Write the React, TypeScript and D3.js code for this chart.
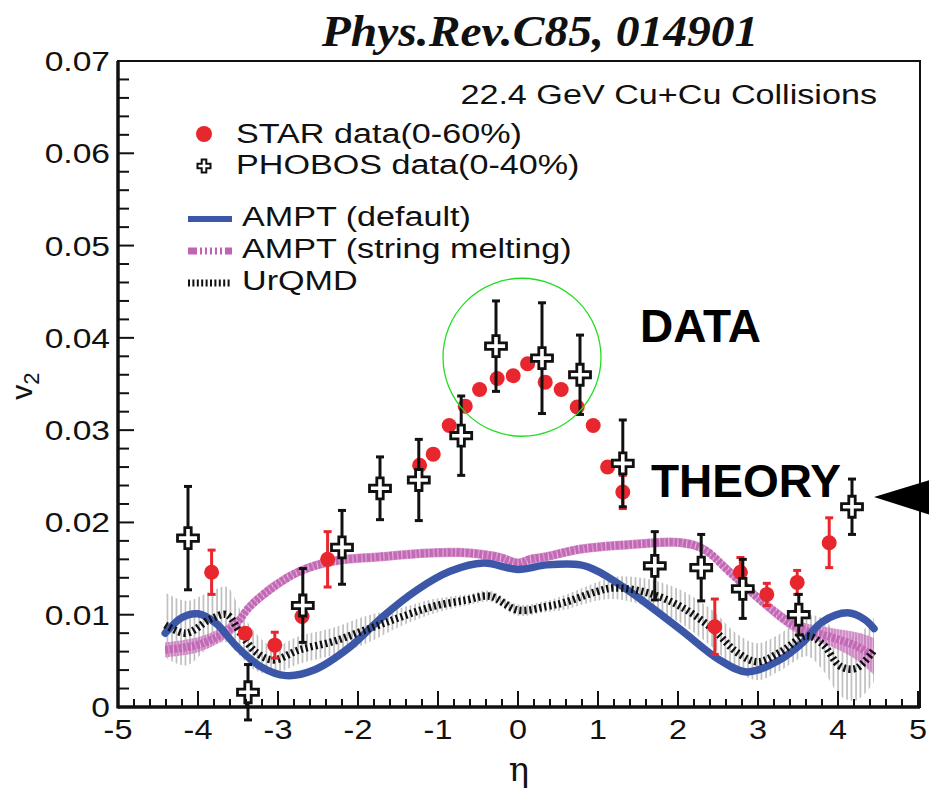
import React from "react";
import * as d3 from "d3";

// STAR v2(eta), 0-60% centrality
const starEta = [-3.83, -3.41, -3.04, -2.7, -2.38, -1.23, -1.06, -0.86, -0.66, -0.48, -0.26, -0.06, 0.12, 0.34, 0.54, 0.74, 0.94, 1.12, 1.31, 2.46, 2.78, 3.11, 3.49, 3.89];
const starV2 = [0.0146, 0.008, 0.0067, 0.0098, 0.016, 0.0262, 0.0274, 0.0305, 0.0326, 0.0344, 0.0356, 0.0359, 0.0372, 0.0352, 0.0344, 0.0325, 0.0305, 0.026, 0.0233, 0.0087, 0.0146, 0.0122, 0.0135, 0.0178];
const starErr = [0.0024, 0, 0.0014, 0, 0.003, 0, 0, 0, 0, 0, 0, 0, 0, 0, 0, 0, 0, 0, 0.0018, 0.003, 0.0016, 0.0012, 0.0013, 0.0027];

// PHOBOS v2(eta), 0-40% centrality
const phobosEta = [-4.125, -3.375, -2.69, -2.2, -1.725, -1.24, -0.71, -0.275, 0.3, 0.775, 1.31, 1.71, 2.29, 2.81, 3.51, 4.175];
const phobosV2 = [0.0183, 0.0016, 0.011, 0.0173, 0.0237, 0.0246, 0.0294, 0.0391, 0.0378, 0.036, 0.0264, 0.0153, 0.0151, 0.0128, 0.01, 0.0217];
const phobosErr = [0.0056, 0.003, 0.004, 0.004, 0.0034, 0.0044, 0.0043, 0.0049, 0.006, 0.0043, 0.0047, 0.0037, 0.0036, 0.0032, 0.0022, 0.003];

// AMPT (default)
const amptEta = [-4.41, -4.2, -4.0, -3.78, -3.51, -3.22, -2.9, -2.55, -2.1, -1.69, -1.26, -0.85, -0.43, 0, 0.36, 0.78, 1.0, 1.4, 2.03, 2.52, 2.86, 3.27, 3.56, 3.8, 4.12, 4.33, 4.45];
const amptV2 = [0.008, 0.0097, 0.0101, 0.0091, 0.0065, 0.0044, 0.0034, 0.004, 0.0065, 0.0098, 0.0127, 0.0147, 0.0156, 0.0149, 0.0154, 0.0154, 0.0147, 0.0125, 0.0084, 0.0051, 0.0038, 0.0051, 0.007, 0.0092, 0.0102, 0.0095, 0.0085];

// AMPT (string melting) with its band
const smEta = [-4.41, -3.98, -3.56, -3.35, -3.06, -2.73, -2.31, -1.69, -1.06, -0.64, -0.22, 0, 0.15, 0.36, 0.78, 1.4, 2.03, 2.32, 2.65, 3.07, 3.48, 3.9, 4.23, 4.45];
const smV2 = [0.0062, 0.0068, 0.0087, 0.0109, 0.013, 0.0147, 0.0158, 0.0163, 0.0167, 0.0167, 0.0162, 0.0156, 0.016, 0.0163, 0.0171, 0.0176, 0.0178, 0.0171, 0.0146, 0.0113, 0.0087, 0.0076, 0.0066, 0.0055];
const smErr = [0.0008, 0.0008, 0.0007, 0.0006, 0.0006, 0.0005, 0.0005, 0.0005, 0.0005, 0.0005, 0.0005, 0.0005, 0.0005, 0.0005, 0.0005, 0.0005, 0.0005, 0.0005, 0.0006, 0.0006, 0.0007, 0.001, 0.0015, 0.002];

// UrQMD with its band
const urEta = [-4.41, -4.15, -3.85, -3.64, -3.47, -3.27, -3.06, -2.73, -2.31, -1.89, -1.48, -1.06, -0.64, -0.35, 0, 0.36, 0.57, 0.98, 1.19, 1.61, 2.03, 2.44, 2.74, 2.99, 3.27, 3.61, 3.81, 4.03, 4.23, 4.45];
const urV2 = [0.0089, 0.008, 0.0095, 0.01, 0.008, 0.0059, 0.0051, 0.0062, 0.0071, 0.0084, 0.0097, 0.0109, 0.0116, 0.012, 0.0105, 0.0109, 0.0113, 0.0125, 0.0129, 0.0124, 0.0109, 0.0084, 0.0059, 0.0049, 0.0059, 0.0077, 0.0068, 0.0044, 0.0042, 0.0062];
const urErr = [0.0035, 0.0035, 0.003, 0.003, 0.0025, 0.002, 0.0015, 0.0015, 0.0015, 0.0015, 0.001, 0.0008, 0.0006, 0.0006, 0.0006, 0.0006, 0.0008, 0.001, 0.0012, 0.0015, 0.0018, 0.002, 0.002, 0.002, 0.002, 0.0022, 0.0028, 0.0032, 0.0035, 0.0035];

const xTicks = [-5, -4, -3, -2, -1, 0, 1, 2, 3, 4, 5];
const yTicks = [0, 0.01, 0.02, 0.03, 0.04, 0.05, 0.06, 0.07];
const yTickLabels = ["0", "0.01", "0.02", "0.03", "0.04", "0.05", "0.06", "0.07"];

const legendItems = ["STAR data(0-60%)", "PHOBOS data(0-40%)", "AMPT (default)", "AMPT (string melting)", "UrQMD"];

const RED = "#e8262d";
const BLUE = "#3d57a8";
const PINK = "#c063b3";
const SANS = "'Liberation Sans', Arial, sans-serif";

const W = 929;
const H = 790;
const x = d3.scaleLinear().domain([-5, 5]).range([118, 918]);
const y = d3.scaleLinear().domain([0, 0.07]).range([707, 61]);

const crossPath = (a: number, t: number) =>
  `M${-t},${-a}H${t}V${-t}H${a}V${t}H${t}V${a}H${-t}V${t}H${-a}V${-t}H${-t}Z`;

function Wide({ x0, y0, size, anchor = "start", sx = 1.2, children, weight = "normal", family = SANS, style = "normal" }: any) {
  return (
    <text
      transform={`translate(${x0},${y0}) scale(${sx},1)`}
      fontSize={size}
      textAnchor={anchor}
      fontFamily={family}
      fontWeight={weight}
      fontStyle={style}
      fill="#111"
    >
      {children}
    </text>
  );
}

export default function App() {
  const curve = d3.curveCatmullRom.alpha(0.5);
  const line = d3
    .line<[number, number]>()
    .x((d) => x(d[0]))
    .y((d) => y(d[1]))
    .curve(curve);
  const band = d3
    .area<[number, number, number]>()
    .x((d) => x(d[0]))
    .y0((d) => y(d[1] - d[2]))
    .y1((d) => y(d[1] + d[2]))
    .curve(curve);

  const amptPts = amptEta.map((e, i) => [e, amptV2[i]] as [number, number]);
  const smPts = smEta.map((e, i) => [e, smV2[i]] as [number, number]);
  const smBand = smEta.map((e, i) => [e, smV2[i], smErr[i]] as [number, number, number]);
  const urPts = urEta.map((e, i) => [e, urV2[i]] as [number, number]);
  const urBand = urEta.map((e, i) => [e, urV2[i], urErr[i]] as [number, number, number]);

  const xMinor = d3.range(-5, 5.001, 0.2);
  const yMinor = d3.range(0, 0.0701, 0.002);

  return (
    <svg width={W} height={H} style={{ position: "absolute", left: 0, top: 0, background: "#fff" }}>
      <defs>
        <pattern id="greyHatch" width="4.5" height="6" patternUnits="userSpaceOnUse">
          <line x1="1" y1="0" x2="1" y2="6" stroke="#8a8a8a" strokeWidth="1.1" />
        </pattern>
        <pattern id="pinkHatch" width="3" height="6" patternUnits="userSpaceOnUse">
          <rect x="0" y="0" width="3" height="6" fill="#dc9ed3" />
          <line x1="1" y1="0" x2="1" y2="6" stroke={PINK} strokeWidth="1.4" />
        </pattern>
        <clipPath id="plotClip">
          <rect x={x(-5)} y={y(0.07)} width={x(5) - x(-5)} height={y(0) - y(0.07)} />
        </clipPath>
      </defs>

      {/* title */}
      <Wide x0={540} y0={46} size={44} anchor="middle" sx={1.08} weight="bold" style="italic" family="'Liberation Serif', 'Times New Roman', serif">
        Phys.Rev.C85, 014901
      </Wide>

      {/* theory curves */}
      <g clipPath="url(#plotClip)">
        <path d={band(urBand) || ""} fill="url(#greyHatch)" opacity={0.85} />
        <path d={band(smBand) || ""} fill="url(#pinkHatch)" opacity={0.8} />
        <path d={line(smPts) || ""} fill="none" stroke={PINK} strokeWidth={8} strokeDasharray="3,1.5" opacity={0.9} />
        <path d={line(amptPts) || ""} fill="none" stroke={BLUE} strokeWidth={7.5} strokeLinecap="round" />
        <path d={line(urPts) || ""} fill="none" stroke="#111" strokeWidth={7.5} strokeDasharray="2.2,2.8" />
      </g>

      {/* STAR */}
      <g>
        {starEta.map((e, i) =>
          starErr[i] > 0 ? (
            <g key={"se" + i} stroke={RED} strokeWidth={3}>
              <line x1={x(e)} x2={x(e)} y1={y(starV2[i] - starErr[i])} y2={y(starV2[i] + starErr[i])} />
              <line x1={x(e) - 4} x2={x(e) + 4} y1={y(starV2[i] - starErr[i])} y2={y(starV2[i] - starErr[i])} />
              <line x1={x(e) - 4} x2={x(e) + 4} y1={y(starV2[i] + starErr[i])} y2={y(starV2[i] + starErr[i])} />
            </g>
          ) : null
        )}
        {starEta.map((e, i) => (
          <circle key={"s" + i} cx={x(e)} cy={y(starV2[i])} r={7.5} fill={RED} />
        ))}
      </g>

      {/* PHOBOS */}
      <g>
        {phobosEta.map((e, i) => (
          <g key={"pe" + i} stroke="#111" strokeWidth={3}>
            <line x1={x(e)} x2={x(e)} y1={y(phobosV2[i] - phobosErr[i])} y2={y(phobosV2[i] + phobosErr[i])} />
            <line x1={x(e) - 4} x2={x(e) + 4} y1={y(phobosV2[i] - phobosErr[i])} y2={y(phobosV2[i] - phobosErr[i])} />
            <line x1={x(e) - 4} x2={x(e) + 4} y1={y(phobosV2[i] + phobosErr[i])} y2={y(phobosV2[i] + phobosErr[i])} />
          </g>
        ))}
        {phobosEta.map((e, i) => (
          <path
            key={"p" + i}
            d={crossPath(10.5, 3.2)}
            transform={`translate(${x(e)},${y(phobosV2[i])})`}
            fill="#fff"
            stroke="#111"
            strokeWidth={2.8}
          />
        ))}
      </g>

      {/* frame */}
      <rect x={x(-5)} y={y(0.07)} width={x(5) - x(-5) + 2} height={y(0) - y(0.07)} fill="none" stroke="#111" strokeWidth={2} />
      <line x1={x(-5)} x2={x(5) + 2} y1={y(0)} y2={y(0)} stroke="#111" strokeWidth={3.5} />
      <line x1={x(-5)} x2={x(-5)} y1={y(0) + 1.5} y2={y(0.07)} stroke="#111" strokeWidth={3.5} />

      {/* ticks */}
      <g stroke="#111" strokeWidth={2}>
        {xMinor.map((t, i) => {
          const major = Math.abs(t - Math.round(t)) < 1e-6;
          return <line key={"xt" + i} x1={x(t)} x2={x(t)} y1={y(0)} y2={y(0) - (major ? 16 : 8)} />;
        })}
        {yMinor.map((t, i) => {
          const major = Math.abs(t * 100 - Math.round(t * 100)) < 1e-6;
          return <line key={"yt" + i} x1={x(-5)} x2={x(-5) + (major ? 16 : 11)} y1={y(t)} y2={y(t)} />;
        })}
      </g>

      {/* tick labels */}
      {xTicks.map((t) => (
        <Wide key={"xl" + t} x0={x(t)} y0={739} size={27} anchor="middle">
          {String(t)}
        </Wide>
      ))}
      {yTicks.map((t, i) => (
        <Wide key={"yl" + t} x0={110} y0={y(t) + 10} size={28} anchor="end">
          {yTickLabels[i]}
        </Wide>
      ))}

      {/* axis titles */}
      <text x={519} y={781} fontSize={34} textAnchor="middle" fontFamily="'DejaVu Serif', serif" fill="#111">
        η
      </text>
      <text transform="translate(32,386) rotate(-90)" fontSize={30} textAnchor="middle" fontFamily={SANS} fill="#111">
        v<tspan fontSize={22} dy={7}>2</tspan>
      </text>

      {/* collision system */}
      <Wide x0={877} y0={104} size={28} anchor="end" sx={1.22}>
        22.4 GeV Cu+Cu Collisions
      </Wide>

      {/* legend */}
      <circle cx={204} cy={134} r={8} fill={RED} />
      <path d={crossPath(6.5, 2.3)} transform="translate(204,166)" fill="#fff" stroke="#111" strokeWidth={2} />
      <line x1={188} x2={232} y1={219} y2={219} stroke={BLUE} strokeWidth={6} />
      <line x1={188} x2={232} y1={251} y2={251} stroke={PINK} strokeWidth={7} strokeDasharray="9,3,2,3,2,3,2,3,2,3,2,3" />
      <line x1={188} x2={232} y1={283} y2={283} stroke="#111" strokeWidth={7} strokeDasharray="2,2.4" />
      <Wide x0={236} y0={143} size={28} sx={1.22}>{legendItems[0]}</Wide>
      <Wide x0={236} y0={174} size={28} sx={1.22}>{legendItems[1]}</Wide>
      <Wide x0={242} y0={226} size={28} sx={1.22}>{legendItems[2]}</Wide>
      <Wide x0={242} y0={258} size={28} sx={1.22}>{legendItems[3]}</Wide>
      <Wide x0={242} y0={290} size={28} sx={1.22}>{legendItems[4]}</Wide>

      {/* annotations */}
      <text x={640} y={342} fontSize={46} fontWeight="bold" fontFamily={SANS} fill="#000">
        DATA
      </text>
      <text x={651} y={497} fontSize={46} fontWeight="bold" fontFamily={SANS} fill="#000">
        THEORY
      </text>
      <circle cx={x(0.05)} cy={y(0.0379)} r={79} fill="none" stroke="#22dd22" strokeWidth={1.3} />
      <path d="M874,497 L940,477 L940,518 Z" fill="#000" />
    </svg>
  );
}
